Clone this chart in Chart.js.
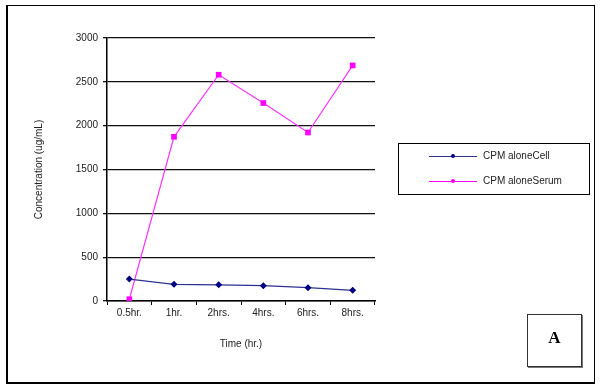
<!DOCTYPE html>
<html>
<head>
<meta charset="utf-8">
<script src="https://cdn.jsdelivr.net/npm/chart.js@4/dist/chart.umd.min.js"></script>
<style>
  html, body { margin: 0; padding: 0; background: #fff; }
  #wrap { position: relative; width: 600px; height: 388px; overflow: hidden; }
  #grafico { position: absolute; left: 0; top: 0; }
  #moldura {
    position: absolute; left: 6px; top: 5px; width: 586px; height: 376px;
    border-left: 2px solid #000; border-bottom: 2px solid #000;
    border-top: 1px solid #000; border-right: 1px solid #000;
  }
  #legenda {
    position: absolute; left: 398px; top: 143px; width: 190px; height: 50px;
    border: 1px solid #000; font-family: "Liberation Sans", Arial, sans-serif;
    font-size: 10px; color: #222;
  }
  .item { position: absolute; left: 30px; height: 10px; }
  .item .linha { position: absolute; left: 0; top: 5px; width: 48px; height: 1px; }
  .item .marca { position: absolute; left: 22px; top: 3px; width: 4px; height: 4px; border-radius: 2px; }
  .item span { position: absolute; left: 54px; top: -1px; white-space: nowrap; }
  #caixaA {
    position: absolute; left: 527px; top: 314px; width: 53px; height: 51px;
    border: 1px solid #333; box-shadow: 1px 1px 0 #777;
    font-family: "Liberation Serif", "Times New Roman", serif; font-weight: bold;
    font-size: 17px; text-align: center; line-height: 45px;
  }
</style>
</head>
<body>
<div id="wrap">
  <canvas id="grafico" width="600" height="388"></canvas>
  <div id="moldura"></div>
  <div id="legenda">
    <div class="item" style="top:7px">
      <div class="linha" style="background:#2E3192"></div>
      <div class="marca" style="background:#000080"></div>
      <span>CPM aloneCell</span>
    </div>
    <div class="item" style="top:32px">
      <div class="linha" style="background:#FF00FF"></div>
      <div class="marca" style="background:#FF00FF"></div>
      <span>CPM aloneSerum</span>
    </div>
  </div>
  <div id="caixaA">A</div>
</div>
<script>
const tempos = ["0.5hr.", "1hr.", "2hrs.", "4hrs.", "6hrs.", "8hrs."];
const celula = [250, 190, 185, 175, 152, 122];
const soro = [20, 1873, 2581, 2258, 1922, 2687];
const ticksY = [0, 500, 1000, 1500, 2000, 2500, 3000];

const fonte = { family: "'Liberation Sans', Arial, sans-serif", size: 10 };

new Chart(document.getElementById("grafico").getContext("2d"), {
    type: "line",
    data: {
        labels: tempos,
        datasets: [
            {
                label: "CPM aloneCell",
                data: celula,
                borderColor: "#2E3192",
                backgroundColor: "#000080",
                borderWidth: 1.2,
                pointStyle: "rectRot",
                pointRadius: 3.5,
                pointBorderWidth: 0,
            },
            {
                label: "CPM aloneSerum",
                data: soro,
                borderColor: "#FF33FF",
                backgroundColor: "#FF00FF",
                borderWidth: 1.2,
                pointStyle: "rect",
                pointRadius: 4,
                pointBorderWidth: 0,
            },
        ],
    },
    options: {
        responsive: false,
        animation: false,
        layout: { padding: { left: 33, top: 38, right: 225, bottom: 36 } },
        plugins: { legend: { display: false }, tooltip: { enabled: false } },
        scales: {
            x: {
                offset: true,
                afterFit: function (s) { s.height = 51; },
                grid: { offset: true, drawOnChartArea: false, color: "#000", tickLength: 4 },
                border: { color: "#000", width: 1.5 },
                ticks: { color: "#222", font: fonte, padding: 2, maxRotation: 0 },
                title: { display: true, text: "Time (hr.)", color: "#222", font: fonte, padding: { top: 0, bottom: 2 } },
            },
            y: {
                min: 0,
                max: 3000,
                afterFit: function (s) { s.width = 74; },
                afterBuildTicks: function (s) { s.ticks = ticksY.map(v => ({ value: v })); },
                grid: { color: "#111", lineWidth: 1.3, tickLength: 4 },
                border: { color: "#000", width: 1.5 },
                ticks: { color: "#222", font: fonte, padding: 5, callback: v => String(v) },
                title: { display: true, text: "Concentration (ug/mL)", color: "#222", font: fonte, padding: { top: 0, bottom: 2 } },
            },
        },
    },
});
</script>
</body>
</html>
